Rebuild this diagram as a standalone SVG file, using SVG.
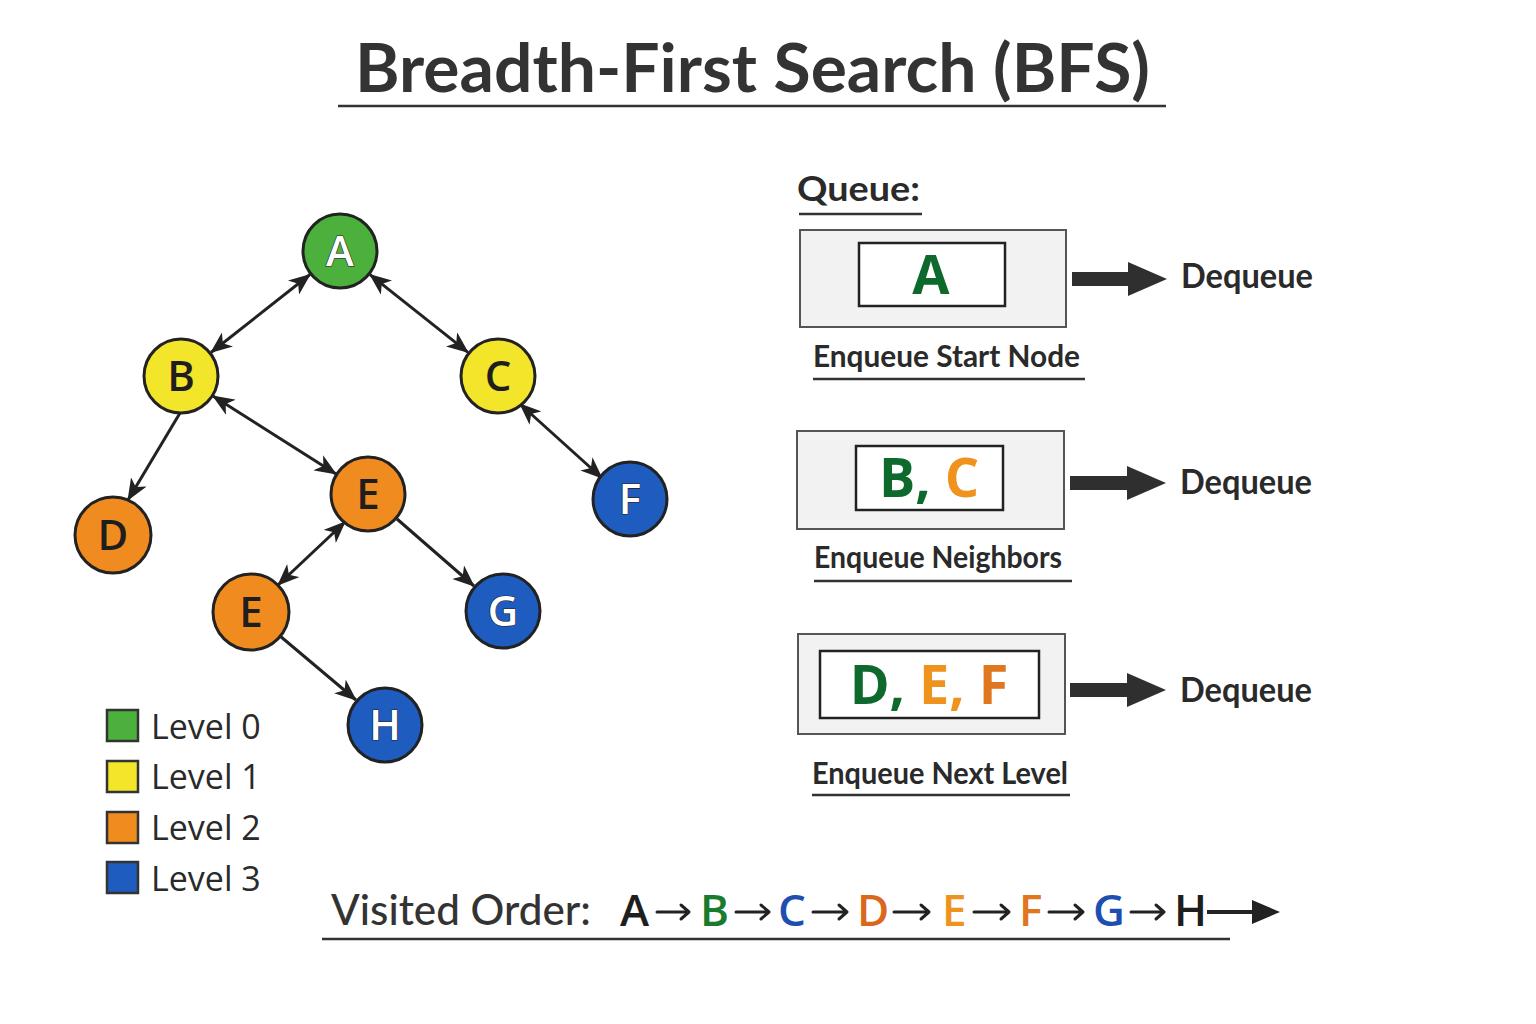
<svg xmlns="http://www.w3.org/2000/svg" width="1536" height="1024" viewBox="0 0 1536 1024">
<defs>
<marker id="ah" viewBox="0 0 22 18" refX="21" refY="9" markerWidth="22" markerHeight="18" markerUnits="userSpaceOnUse" orient="auto-start-reverse">
<path d="M0,0 L22,9 L0,18 L6,9 z" fill="#222"/>
</marker>
</defs>
<style>
.t{font-family:Lato,"Open Sans","Liberation Sans",sans-serif;fill:#333}
.node circle{stroke:#222;stroke-width:3}
.nl{font-family:"Open Sans",Lato,"Liberation Sans",sans-serif;font-size:42px;font-weight:600;text-anchor:middle}
.dark{fill:#1e1e1e}
.light{fill:#fff;stroke:#222;stroke-width:1.2;paint-order:stroke}
.green{fill:#4cb03c}.yellow{fill:#f2e52a}.orange{fill:#f08c1f}.blue{fill:#1f5cbf}
.edge{stroke:#222;stroke-width:3;fill:none}
.ul{stroke:#333;stroke-width:2.5}
.outer{fill:#f2f2f2;stroke:#555;stroke-width:2}
.inner{fill:#fff;stroke:#222;stroke-width:2.5}
.qt{font-family:"Open Sans",Lato,"Liberation Sans",sans-serif;font-weight:700;text-anchor:middle;font-size:54px}
.cap{font-family:Lato,"Open Sans","Liberation Sans",sans-serif;font-weight:700;font-size:30px;fill:#2a2a2a}
.dq{font-family:Lato,"Open Sans","Liberation Sans",sans-serif;font-weight:700;font-size:35px;fill:#2a2a2a}
.big{fill:#2f2f2f}
.vo{font-family:"Open Sans",Lato,"Liberation Sans",sans-serif;font-size:44px;font-weight:600}
.sa{stroke:#222;stroke-width:3;fill:none;stroke-linecap:round;stroke-linejoin:round}
.lg{stroke:#333;stroke-width:2.5}
.lt{font-family:"Open Sans",Lato,"Liberation Sans",sans-serif;font-size:34px;font-weight:500;fill:#2a2a2a}
</style>
<rect width="1536" height="1024" fill="#fff"/>

<g id="title">
<text class="t" x="355" y="92" font-size="66" font-weight="700" textLength="795" lengthAdjust="spacingAndGlyphs">Breadth-First Search (BFS)</text>
<line class="ul" x1="338" y1="106" x2="1166" y2="106"/>
</g>

<g id="connectors">
<line class="edge" x1="310" y1="274.5" x2="211" y2="352.5" marker-start="url(#ah)" marker-end="url(#ah)"/>
<line class="edge" x1="370" y1="274.6" x2="468" y2="352.4" marker-start="url(#ah)" marker-end="url(#ah)"/>
<line class="edge" x1="180" y1="413" x2="128" y2="500" marker-end="url(#ah)"/>
<line class="edge" x1="213" y1="396" x2="336" y2="474" marker-start="url(#ah)" marker-end="url(#ah)"/>
<line class="edge" x1="520" y1="404" x2="602" y2="478" marker-start="url(#ah)" marker-end="url(#ah)"/>
<line class="edge" x1="345" y1="522" x2="278" y2="585" marker-start="url(#ah)" marker-end="url(#ah)"/>
<line class="edge" x1="397" y1="519" x2="474" y2="586" marker-end="url(#ah)"/>
<line class="edge" x1="280" y1="636" x2="356" y2="700" marker-end="url(#ah)"/>
</g>

<g id="node-A" class="node"><circle class="green" cx="340" cy="251" r="37"/><text class="nl light" x="340" y="266">A</text></g>
<g id="node-B" class="node"><circle class="yellow" cx="181" cy="376" r="37"/><text class="nl dark" x="181" y="391">B</text></g>
<g id="node-C" class="node"><circle class="yellow" cx="498" cy="376" r="37"/><text class="nl dark" x="498" y="391">C</text></g>
<g id="node-D" class="node"><circle class="orange" cx="113" cy="535" r="38"/><text class="nl dark" x="113" y="550">D</text></g>
<g id="node-E1" class="node"><circle class="orange" cx="368" cy="494" r="37"/><text class="nl dark" x="368" y="509">E</text></g>
<g id="node-F" class="node"><circle class="blue" cx="630" cy="499" r="37"/><text class="nl light" x="630" y="514">F</text></g>
<g id="node-E2" class="node"><circle class="orange" cx="251" cy="612" r="38"/><text class="nl dark" x="251" y="627">E</text></g>
<g id="node-G" class="node"><circle class="blue" cx="503" cy="611" r="37"/><text class="nl light" x="503" y="626">G</text></g>
<g id="node-H" class="node"><circle class="blue" cx="385" cy="725" r="37"/><text class="nl light" x="385" y="740">H</text></g>

<g id="legend">
<rect class="lg" x="107" y="710" width="31" height="31" fill="#4cb03c"/>
<text class="lt" x="151" y="739">Level 0</text>
<rect class="lg" x="107" y="761" width="31" height="31" fill="#f2e52a"/>
<text class="lt" x="151" y="789">Level 1</text>
<rect class="lg" x="107" y="812" width="31" height="31" fill="#f08c1f"/>
<text class="lt" x="151" y="840">Level 2</text>
<rect class="lg" x="107" y="862" width="31" height="31" fill="#1f5cbf"/>
<text class="lt" x="151" y="891">Level 3</text>
</g>

<g id="queue-label">
<text class="dq" x="797" y="201" font-size="40" textLength="123" lengthAdjust="spacingAndGlyphs">Queue:</text>
<line class="ul" x1="799" y1="214" x2="922" y2="214"/>
</g>

<g id="queue-1">
<rect class="outer" x="800" y="230" width="266" height="97"/>
<rect class="inner" x="859" y="243" width="146" height="63"/>
<text class="qt" x="931" y="294" fill="#0d6a2c">A</text>
<path class="big" d="M1072,272 H1128 V262 L1167,279 L1128,296 V286 H1072 z"/>
<text class="dq" x="1181" y="288" textLength="132" lengthAdjust="spacingAndGlyphs">Dequeue</text>
<text class="cap" x="813" y="367" textLength="267" lengthAdjust="spacingAndGlyphs">Enqueue Start Node</text>
<line class="ul" x1="813" y1="379" x2="1085" y2="379" stroke-width="2"/>
</g>

<g id="queue-2">
<rect class="outer" x="797" y="431" width="267" height="98"/>
<rect class="inner" x="856" y="446" width="147" height="64"/>
<text class="qt" x="929" y="497"><tspan fill="#0d6a2c">B, </tspan><tspan fill="#f0921e">C</tspan></text>
<path class="big" d="M1070,476 H1127 V466 L1166,483 L1127,500 V490 H1070 z"/>
<text class="dq" x="1180" y="494" textLength="132" lengthAdjust="spacingAndGlyphs">Dequeue</text>
<text class="cap" x="814" y="568" textLength="248" lengthAdjust="spacingAndGlyphs">Enqueue Neighbors</text>
<line class="ul" x1="814" y1="581" x2="1072" y2="581" stroke-width="2"/>
</g>

<g id="queue-3">
<rect class="outer" x="798" y="634" width="267" height="100"/>
<rect class="inner" x="820" y="651" width="219" height="67"/>
<text class="qt" x="929" y="704"><tspan fill="#0d6a2c">D, </tspan><tspan fill="#f0921e">E, </tspan><tspan fill="#e0761e">F</tspan></text>
<path class="big" d="M1070,683 H1127 V673 L1166,690 L1127,707 V697 H1070 z"/>
<text class="dq" x="1180" y="702" textLength="132" lengthAdjust="spacingAndGlyphs">Dequeue</text>
<text class="cap" x="812" y="784" textLength="256" lengthAdjust="spacingAndGlyphs">Enqueue Next Level</text>
<line class="ul" x1="812" y1="795" x2="1070" y2="795" stroke-width="2"/>
</g>

<g id="visited-order">
<text class="t" x="331" y="925" font-size="42" font-weight="500" textLength="260" lengthAdjust="spacingAndGlyphs">Visited Order:</text>
<text class="vo" x="620" y="926" fill="#1e1e1e">A</text>
<path class="sa" d="M657,912 H689 M681,905 L689,912 L681,919"/>
<text class="vo" x="700" y="926" fill="#1a7a2e">B</text>
<path class="sa" d="M736,912 H769 M761,905 L769,912 L761,919"/>
<text class="vo" x="778" y="926" fill="#1e4fb0">C</text>
<path class="sa" d="M813,912 H847 M839,905 L847,912 L839,919"/>
<text class="vo" x="857" y="926" fill="#d9681e">D</text>
<path class="sa" d="M894,912 H929 M921,905 L929,912 L921,919"/>
<text class="vo" x="942" y="926" fill="#f0921e">E</text>
<path class="sa" d="M974,912 H1009 M1001,905 L1009,912 L1001,919"/>
<text class="vo" x="1019" y="926" fill="#e0761e">F</text>
<path class="sa" d="M1049,912 H1083 M1075,905 L1083,912 L1075,919"/>
<text class="vo" x="1093" y="926" fill="#1e4fb0">G</text>
<path class="sa" d="M1131,912 H1164 M1156,905 L1164,912 L1156,919"/>
<text class="vo" x="1174" y="926" fill="#1e1e1e">H</text>
<path d="M1207,910 H1252 V900 L1280,912 L1252,924 V914 H1207 z" fill="#222"/>
<line class="ul" x1="322" y1="939" x2="1230" y2="939"/>
</g>
</svg>
